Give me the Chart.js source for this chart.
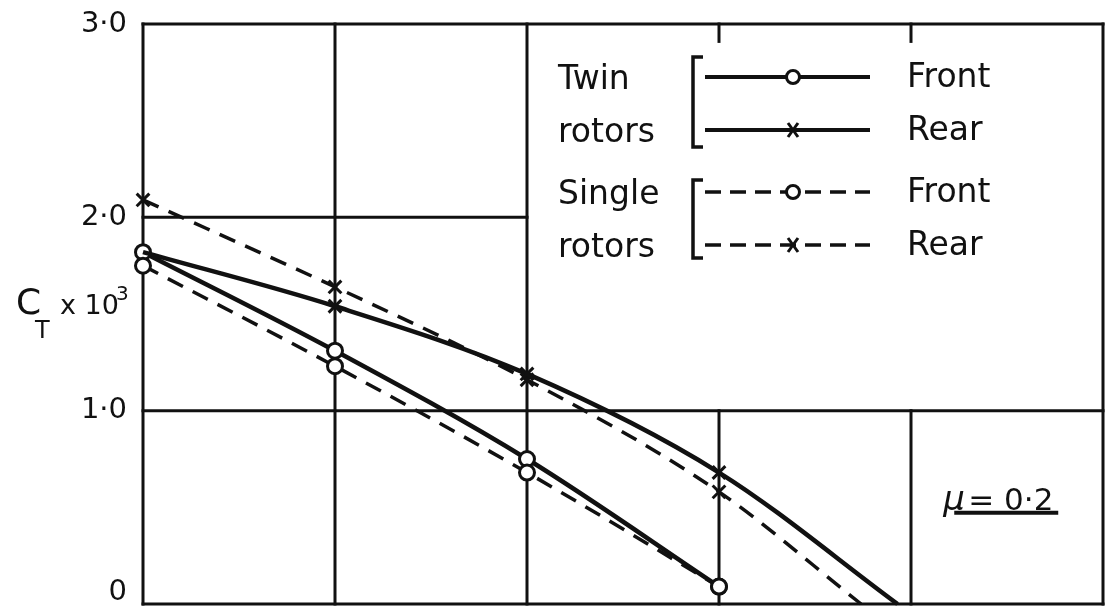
<!DOCTYPE html>
<html>
<head>
<meta charset="utf-8">
<title>Rotor thrust coefficient</title>
<script src="https://cdn.jsdelivr.net/npm/chart.js@4.4.1/dist/chart.umd.min.js"></script>
<style>
  html, body { margin: 0; padding: 0; background: #fff; }
  #wrap { width: 1106px; height: 612px; }
</style>
</head>
<body>
<div id="wrap"><canvas id="ctChart" width="1106" height="612"></canvas></div>
<script>
// Measured stations and thrust coefficients (C_T x 10^3)
const stations = [0, 1, 2, 3];
const twinFront = [1.82, 1.31, 0.75, 0.09];
const twinRear = [1.82, 1.54, 1.19, 0.68];
const singleFront = [1.75, 1.23, 0.68, 0.09];
const singleRear = [2.09, 1.64, 1.16, 0.58];
// where the rear curves run out to zero thrust
const twinRearZero = 3.93;
const singleRearZero = 3.74;

const yTicks = [0, 1, 2, 3];
const legendLabels = ['Front', 'Rear', 'Front', 'Rear'];
const groupLabels = [['Twin', 'rotors'], ['Single', 'rotors']];
const muLabel = '0·2';

const INK = '#111';
const FONT = '"DejaVu Sans", sans-serif';

function toPoints(xs, ys) {
    return ys.map((v, i) => ({ x: xs[i], y: v }));
}

function tickText(v) {
    return v === 0 ? '0' : v.toFixed(1).replace('.', '·');
}

// grid is drawn by hand: the legend panel hides part of it
const gridSegments = [
    [0, 0, 5, 0], [0, 1, 5, 1], [0, 3, 5, 3], [0, 2, 2, 2],
    [0, 0, 0, 3], [1, 0, 1, 3], [2, 0, 2, 3], [5, 0, 5, 3],
    [3, 0, 3, 1], [4, 0, 4, 1], [3, 2.91, 3, 3], [4, 2.91, 4, 3]
];

const gridPlugin = {
    id: 'handGrid',
    beforeDatasetsDraw(chart) {
        const { ctx, scales: { x, y } } = chart;
        ctx.save();
        ctx.strokeStyle = INK;
        ctx.lineWidth = 3;
        ctx.lineCap = 'square';
        gridSegments.forEach(([x0, y0, x1, y1]) => {
            ctx.beginPath();
            ctx.moveTo(x.getPixelForValue(x0), y.getPixelForValue(y0));
            ctx.lineTo(x.getPixelForValue(x1), y.getPixelForValue(y1));
            ctx.stroke();
        });

        // y tick labels
        ctx.fillStyle = INK;
        ctx.font = '29px ' + FONT;
        ctx.textAlign = 'right';
        ctx.textBaseline = 'middle';
        yTicks.forEach(v => {
            ctx.fillText(tickText(v), x.left - 16, y.getPixelForValue(v) - (v === 0 ? 12 : 0));
        });
        ctx.restore();
    }
};

function drawMarker(ctx, kind, cx, cy) {
    ctx.save();
    ctx.strokeStyle = INK;
    ctx.setLineDash([]);
    ctx.lineWidth = 3;
    if (kind === 'circle') {
        ctx.fillStyle = '#fff';
        ctx.beginPath();
        ctx.arc(cx, cy, 6.5, 0, Math.PI * 2);
        ctx.fill();
        ctx.stroke();
    } else {
        ctx.beginPath();
        ctx.moveTo(cx - 5, cy - 7); ctx.lineTo(cx + 5, cy + 7);
        ctx.moveTo(cx + 5, cy - 7); ctx.lineTo(cx - 5, cy + 7);
        ctx.stroke();
    }
    ctx.restore();
}

const labelPlugin = {
    id: 'labels',
    afterDraw(chart) {
        const { ctx, scales: { x, y } } = chart;
        ctx.save();
        ctx.fillStyle = INK;
        ctx.textBaseline = 'alphabetic';

        // axis title C_T x 10^3
        ctx.font = '36px ' + FONT;
        ctx.fillText('C', 16, 314);
        ctx.font = '24px ' + FONT;
        ctx.fillText('T', 35, 338);
        ctx.font = '27px ' + FONT;
        ctx.fillText('x 10', 60, 314);
        ctx.font = '20px ' + FONT;
        ctx.fillText('3', 116, 300);

        // legend panel
        const rows = [77, 130, 192, 245];
        const kinds = ['circle', 'cross', 'circle', 'cross'];
        ctx.font = '33px ' + FONT;
        groupLabels.forEach((g, i) => {
            ctx.fillText(g[0], 558, rows[i * 2] + 12);
            ctx.fillText(g[1], 558, rows[i * 2 + 1] + 12);
        });
        legendLabels.forEach((t, i) => ctx.fillText(t, 907, rows[i] + 10));

        ctx.strokeStyle = INK;
        ctx.lineWidth = 3.5;
        [[57, 147], [180, 258]].forEach(([top, bot]) => {
            ctx.beginPath();
            ctx.moveTo(703, top); ctx.lineTo(693, top);
            ctx.lineTo(693, bot); ctx.lineTo(703, bot);
            ctx.stroke();
        });
        rows.forEach((ry, i) => {
            ctx.save();
            ctx.lineWidth = i < 2 ? 4 : 3.5;
            ctx.setLineDash(i < 2 ? [] : [16, 9]);
            ctx.beginPath();
            ctx.moveTo(705, ry); ctx.lineTo(870, ry);
            ctx.stroke();
            ctx.restore();
            drawMarker(ctx, kinds[i], 793, ry);
        });

        // advance ratio note
        const mx = x.getPixelForValue(4.47);
        const my = y.getPixelForValue(0.55);
        ctx.font = 'italic 34px ' + FONT;
        ctx.fillText('μ', mx - 58, my + 12);
        ctx.font = '31px ' + FONT;
        ctx.fillText('= ' + muLabel, mx - 33, my + 12);
        ctx.lineWidth = 4;
        ctx.beginPath();
        ctx.moveTo(mx - 47, my + 15);
        ctx.lineTo(mx + 57, my + 15);
        ctx.stroke();
        ctx.restore();
    }
};

const ctx = document.getElementById('ctChart').getContext('2d');

new Chart(ctx, {
    type: 'line',
    data: {
        datasets: [
            {
                label: 'Twin rotors – Rear',
                data: toPoints(stations, twinRear).concat([{ x: twinRearZero, y: 0 }]),
                borderWidth: 4.5,
                pointStyle: 'crossRot',
                pointRadius: [0, 9, 9, 9, 0],
                pointBorderWidth: 3
            },
            {
                label: 'Single rotors – Rear',
                data: toPoints(stations, singleRear).concat([{ x: singleRearZero, y: 0 }]),
                borderWidth: 3.5,
                borderDash: [17, 11],
                pointStyle: 'crossRot',
                pointRadius: [9, 9, 9, 9, 0],
                pointBorderWidth: 3
            },
            {
                label: 'Single rotors – Front',
                data: toPoints(stations, singleFront),
                borderWidth: 3.5,
                borderDash: [17, 11],
                pointStyle: 'circle',
                pointRadius: 7.5,
                pointBorderWidth: 3,
                pointBackgroundColor: '#fff'
            },
            {
                label: 'Twin rotors – Front',
                data: toPoints(stations, twinFront),
                borderWidth: 4.5,
                pointStyle: 'circle',
                pointRadius: 7.5,
                pointBorderWidth: 3,
                pointBackgroundColor: '#fff'
            }
        ].map(ds => Object.assign({
            borderColor: INK,
            pointBorderColor: INK,
            pointBackgroundColor: INK,
            cubicInterpolationMode: 'monotone',
            clip: false,
            fill: false
        }, ds))
    },
    options: {
        responsive: false,
        animation: false,
        layout: { autoPadding: false, padding: { top: 24, right: 3, left: 0, bottom: 8 } },
        plugins: {
            legend: { display: false },
            tooltip: { enabled: false }
        },
        scales: {
            x: {
                type: 'linear',
                display: false,
                min: 0,
                max: 5
            },
            y: {
                min: 0,
                max: 3,
                grid: { display: false, drawTicks: false },
                border: { display: false },
                ticks: { display: false },
                afterFit(scale) { scale.width = 143; }
            }
        }
    },
    plugins: [gridPlugin, labelPlugin]
});
</script>
</body>
</html>
